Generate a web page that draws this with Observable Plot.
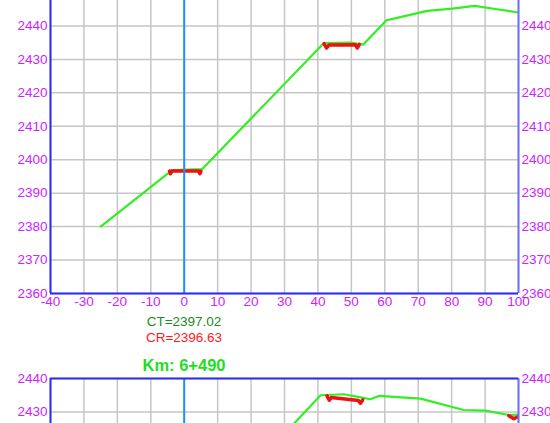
<!DOCTYPE html>
<html><head><meta charset="utf-8">
<script src="https://cdn.jsdelivr.net/npm/d3@7"></script>
<script src="https://cdn.jsdelivr.net/npm/@observablehq/plot@0.6"></script>
<style>
html,body{margin:0;padding:0;background:#fff;overflow:hidden;}
#wrap{position:relative;width:550px;height:423px;overflow:hidden;font-family:"Liberation Sans",Arial,sans-serif;}
.abs{position:absolute;left:0;}
.lbl{position:absolute;left:184px;transform:translateX(-50%);white-space:nowrap;line-height:1;}
</style></head><body>
<div id="wrap">
  <div id="c1" class="abs" style="top:-18px"></div>
  <div id="ct" class="lbl" style="top:314.6px;font-size:13.5px;color:#228b22"></div>
  <div id="cr" class="lbl" style="top:330.6px;font-size:13.5px;color:#ff1a1a"></div>
  <div id="km" class="lbl" style="top:356.5px;font-size:16.5px;font-weight:bold;color:#1fdd1f"></div>
  <div id="c2" class="abs" style="top:368px"></div>
</div>
<script>
// ---- data ----
const xTicks = [-40, -30, -20, -10, 0, 10, 20, 30, 40, 50, 60, 70, 80, 90, 100];
const yTicks1 = [2360, 2370, 2380, 2390, 2400, 2410, 2420, 2430, 2440, 2450];
const yTicks2 = [2360, 2370, 2380, 2390, 2400, 2410, 2420, 2430, 2440];

// section 1: terrain (green) and road template (red)
const ct1X = [-25, -3.6, 5.4, 41.8, 49.7, 53.5, 60.5, 62.7, 72.7, 80.2, 86.9, 93.6, 100];
const ct1Y = [2380.0, 2396.9, 2397.2, 2434.9, 2435.0, 2434.4, 2441.7, 2442.2, 2444.5, 2445.2, 2446.0, 2445.0, 2444.0];
const cr1aX = [-4.4, -4.1, -3.7, 0, 4.3, 4.7, 5.0];
const cr1aY = [2396.6, 2395.8, 2396.6, 2396.63, 2396.6, 2395.8, 2396.5];
const cr1bX = [41.8, 42.6, 43.3, 51.2, 51.8, 52.4];
const cr1bY = [2434.7, 2433.4, 2434.3, 2434.4, 2433.4, 2434.5];

// section 2 (Km 6+490)
const ct2X = [31.5, 40.8, 47.7, 53.2, 55.7, 58.2, 70.7, 83.6, 90.1, 97.1, 100];
const ct2Y = [2425.1, 2435.0, 2435.3, 2434.3, 2433.8, 2434.8, 2434.0, 2430.6, 2430.4, 2429.1, 2429.2];
const cr2aX = [42.7, 43.4, 44.0, 52.1, 52.7, 53.4];
const cr2aY = [2434.8, 2433.5, 2434.3, 2433.4, 2432.6, 2433.6];
const cr2bX = [97.1, 98.6, 100];
const cr2bY = [2428.9, 2428.0, 2428.6];

const ctLabel = "CT=2397.02";
const crLabel = "CR=2396.63";
const stationLabel = "Km: 6+490";

// ---- drawing ----
const pts = (xs, ys) => xs.map((x, i) => ({x, y: ys[i]}));
const GREEN = "#33ee22", RED = "#ee1111", TICK = "#cc22ff";

function section(yDomain, yTicks, plotH, terrain, roads) {
  const axisOpts = {tickSize: 0, tickPadding: 3, tickFormat: d => String(d), color: TICK, label: null, fontSize: 13.5};
  return Plot.plot({
    width: 550, height: 10 + plotH + 30,
    marginLeft: 50, marginRight: 32, marginTop: 10, marginBottom: 30,
    x: {domain: [-40, 100]},
    y: {domain: yDomain},
    style: {fontFamily: '"Liberation Sans", Arial, sans-serif', fontSize: "13.5px", background: "transparent", overflow: "visible"},
    marks: [
      Plot.gridX(xTicks, {stroke: "#c6c6c6", strokeOpacity: 1, strokeWidth: 1.5}),
      Plot.gridY(yTicks, {stroke: "#c6c6c6", strokeOpacity: 1, strokeWidth: 1.5}),
      Plot.line(terrain, {x: "x", y: "y", stroke: GREEN, strokeWidth: 2.2, clip: true}),
      ...roads.map(r => Plot.line(r, {x: "x", y: "y", stroke: RED, strokeWidth: 3.5, clip: true})),
      Plot.ruleX([0], {stroke: "#1e90ff", strokeWidth: 2}),
      Plot.ruleX([xTicks[0]], {stroke: "#2a2aff", strokeWidth: 2}),
      Plot.ruleX([xTicks[xTicks.length - 1]], {stroke: "#7070ff", strokeWidth: 2}),
      Plot.ruleY([yDomain[0]], {stroke: "#2a2aff", strokeWidth: 2}),
      Plot.ruleY([yDomain[1]], {stroke: "#2a2aff", strokeWidth: 2}),
      Plot.axisX(xTicks, {...axisOpts, anchor: "bottom"}),
      Plot.axisY(yTicks, {...axisOpts, anchor: "left"}),
      Plot.axisY(yTicks, {...axisOpts, anchor: "right"})
    ]
  });
}

document.getElementById("c1").append(
  section([2360, 2450], yTicks1.filter(d => d <= 2440), 301,
    pts(ct1X, ct1Y), [pts(cr1aX, cr1aY), pts(cr1bX, cr1bY)])
);
document.getElementById("c2").append(
  section([2360, 2440], yTicks2, 268,
    pts(ct2X, ct2Y), [pts(cr2aX, cr2aY), pts(cr2bX, cr2bY)])
);
document.getElementById("ct").textContent = ctLabel;
document.getElementById("cr").textContent = crLabel;
document.getElementById("km").textContent = stationLabel;
</script>
</body></html>
